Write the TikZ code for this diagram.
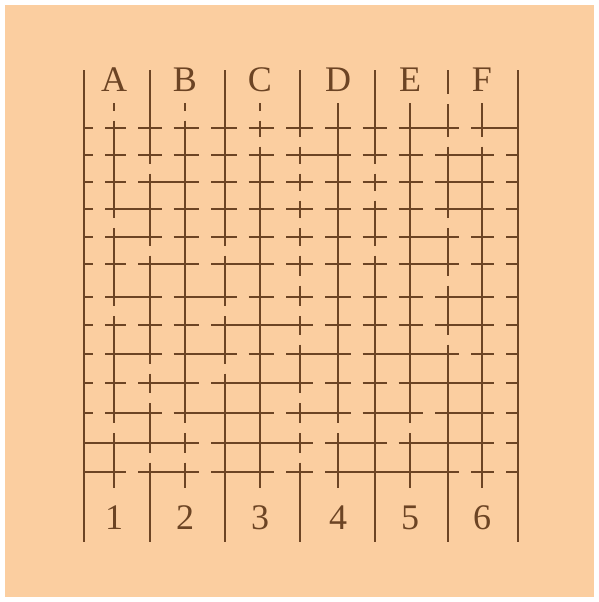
\documentclass[tikz,border=0pt]{standalone}
\usepackage{fontspec}
\setmainfont{Liberation Serif}
\definecolor{paper}{RGB}{251,206,160}
\definecolor{ink}{RGB}{108,68,36}

\begin{document}
\begin{tikzpicture}[
  x=1pt, y=-1pt,
  % Estilos
  line/.style={draw=ink, line width=2.4pt},
  lettertxt/.style={font=\fontsize{36}{40}\selectfont, text=ink, anchor=base, inner sep=0pt},
  numtxt/.style={font=\fontsize{36}{40}\selectfont, text=ink, anchor=base, inner sep=0pt}
]

  % Fondo
  \fill[white] (0,0) rectangle (599,602);
  \fill[paper] (5,5) rectangle (594,597);
  \useasboundingbox (0,0) rectangle (599,602);

  % posiciones de las columnas y filas
  \def\colx{{84,114,150,185,225,260,300,338,375,410,448,482,518}}
  \def\rowy{{128,155,182,209,237,264,297,325,354,383,413,443,472}}

  % ==========================================
  % HORIZONTAL ROWS (1 = tramo unido)
  % ==========================================
  \foreach \r/\links in {
    0/{0,0,0,0,0,0,0,0,0,1,0,1},
    1/{0,0,0,0,0,0,1,0,0,0,1,0},
    2/{0,0,1,0,0,0,0,0,0,0,1,0},
    3/{0,1,0,0,0,0,0,0,0,0,1,0},
    4/{0,1,0,0,0,0,0,0,0,1,0,0},
    5/{0,0,1,0,1,0,0,0,0,1,0,0},
    6/{0,1,0,1,0,0,0,0,0,0,1,0},
    7/{0,0,0,0,1,1,0,0,0,0,1,0},
    8/{0,1,0,1,0,0,1,0,1,1,0,0},
    9/{0,0,1,0,1,1,0,0,0,1,1,0},
    10/{0,1,0,1,1,0,1,0,1,0,1,0},
    11/{1,1,1,0,1,1,0,1,0,1,1,0},
    12/{1,0,1,0,1,0,0,1,1,1,0,0}}{
    \pgfmathsetmacro\yy{\rowy[\r]}
    \foreach \b [count=\j from 0] in \links {
      \pgfmathsetmacro\xa{\colx[\j]}
      \pgfmathsetmacro\xb{\colx[\j+1]}
      \pgfmathsetmacro\gp{6*(1-\b)}
      \draw[line] (\xa,\yy) -- ({(\xa+\xb)/2-\gp},\yy)
                  ({(\xa+\xb)/2+\gp},\yy) -- (\xb,\yy);
    }
  }

  % ==========================================
  % VERTICAL LINES (columna/arriba/abajo/tramo superior/tramos)
  % ==========================================
  \foreach \c/\yt/\yb/\tb/\links in {
    0/70/542/1/{1,1,1,1,1,1,1,1,1,1,1,1},
    1/103/488/0/{1,1,1,0,1,1,0,1,1,1,0,1},
    2/70/542/1/{1,0,1,1,0,1,1,1,0,0,1,0},
    3/103/488/0/{1,1,1,1,1,1,1,1,1,1,0,0},
    4/70/542/1/{1,1,1,1,0,1,0,1,0,1,1,1},
    5/103/488/0/{0,1,1,1,1,1,1,1,1,1,1,1},
    6/70/542/1/{0,0,0,0,0,0,0,0,1,0,0,0},
    7/103/488/1/{1,1,1,1,1,1,1,1,1,1,0,1},
    8/70/542/1/{1,0,0,1,0,1,1,1,1,1,1,1},
    9/103/488/1/{1,1,1,1,1,1,1,1,1,1,0,1},
    10/70/542/0/{0,1,1,0,1,0,1,0,1,1,1,1},
    11/103/488/1/{0,1,1,1,1,1,1,1,1,1,1,1},
    12/70/542/1/{1,1,1,1,1,1,1,1,1,1,1,1}}{
    \pgfmathsetmacro\xx{\colx[\c]}
    \pgfmathsetmacro\ya{\rowy[0]}
    \pgfmathsetmacro\yz{\rowy[12]}
    \pgfmathsetmacro\gp{5*(1-\tb)}
    % tramo superior
    \draw[line] (\xx,\yt) -- (\xx,{(\yt+\ya)/2-\gp})
                (\xx,{(\yt+\ya)/2+\gp}) -- (\xx,\ya);
    \foreach \b [count=\i from 0] in \links {
      \pgfmathsetmacro\ys{\rowy[\i]}
      \pgfmathsetmacro\ye{\rowy[\i+1]}
      \pgfmathsetmacro\gp{5*(1-\b)}
      \draw[line] (\xx,\ys) -- (\xx,{(\ys+\ye)/2-\gp})
                  (\xx,{(\ys+\ye)/2+\gp}) -- (\xx,\ye);
    }
    % tramo inferior
    \draw[line] (\xx,\yz) -- (\xx,\yb);
  }

  % ==========================================
  % LETTERS AND NUMBERS
  % ==========================================
  \foreach \c/\t [count=\n] in {1/A,3/B,5/C,7/D,9/E,11/F}{
    \pgfmathsetmacro\xx{\colx[\c]}
    \node[lettertxt] (let\t) at (\xx,92) {\t};
    \node[numtxt] (num\n) at (\xx,529) {\n};
  }

\end{tikzpicture}
\end{document}
